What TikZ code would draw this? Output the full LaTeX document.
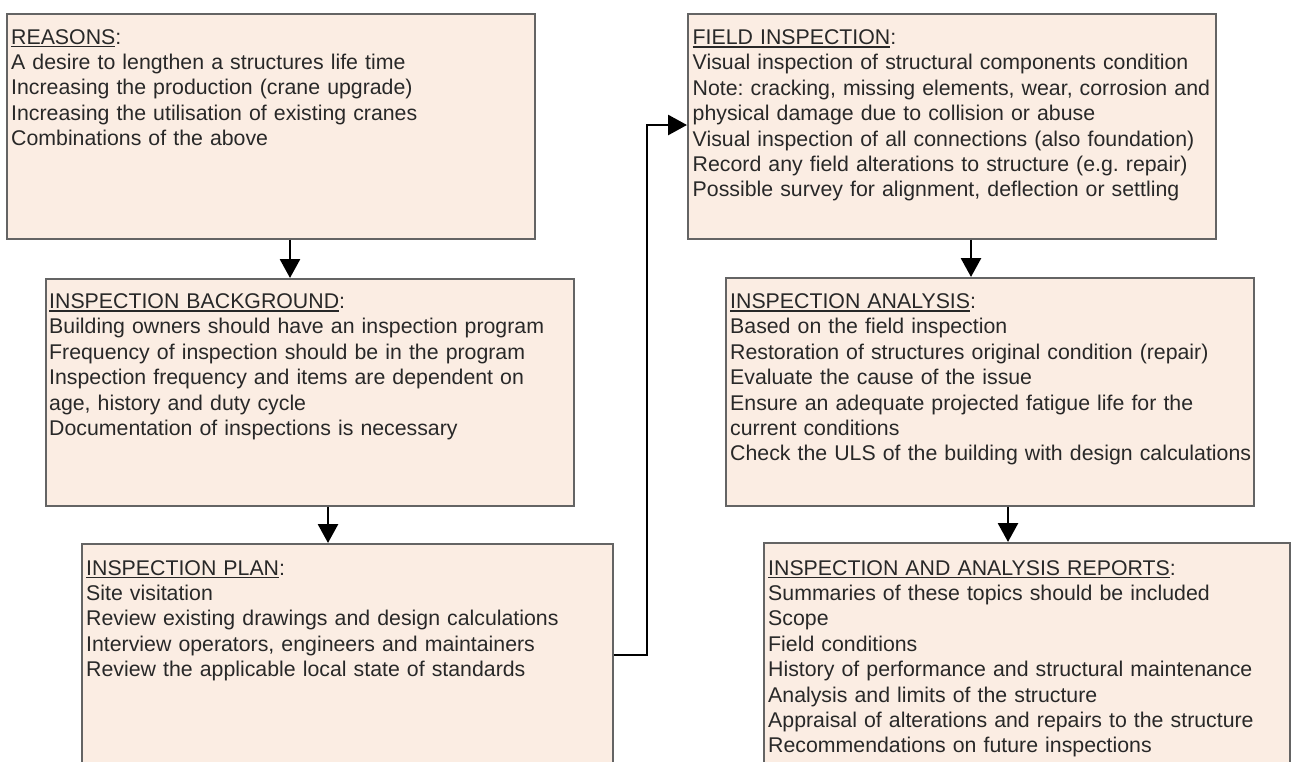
\documentclass[tikz,border=0pt]{standalone}
\usepackage{fontspec}
\setmainfont{Liberation Sans}
\usetikzlibrary{arrows.meta,calc}
\definecolor{boxfill}{RGB}{251,237,227}
\definecolor{boxline}{RGB}{100,100,100}
\definecolor{ink}{RGB}{40,40,40}
\frenchspacing
% underlined stage heading (the colon stays outside the rule)
\newcommand\stagehead[1]{\setbox0=\hbox{#1}\rlap{\rule[-3.2pt]{\wd0}{1.4pt}}\box0}
\tikzset{
  stagebox/.style={draw=boxline, fill=boxfill, line width=1.7pt, minimum width=528pt,
    inner sep=0pt, anchor=north west},
  stagetext/.style={anchor=base west, inner sep=0pt, text width=522pt, align=left, text=ink,
    font=\fontsize{21.3pt}{25.4pt}\selectfont},
  flow/.style={line width=2.8pt, line join=miter, -{Triangle[length=19pt,width=20pt]}},
}
\begin{document}
\begin{tikzpicture}[x=1pt,y=-1pt]
\useasboundingbox (0,0) rectangle (1291,761);
\clip (0,0) rectangle (1291,761);

% left column
\node[stagebox, minimum height=225pt] (reasons) at (6,13) {};
\node[stagebox, minimum height=227pt] (background) at (45,278) {};
\node[stagebox, minimum width=531pt, minimum height=250pt] (plan) at (81,543) {};
% right column
\node[stagebox, minimum height=225pt] (field) at (687,13) {};
\node[stagebox, minimum height=228pt] (analysis) at (725,277) {};
\node[stagebox, minimum width=526pt, minimum height=250pt] (reports) at (763,542) {};

\node[stagetext] (reasonsT) at ($(reasons.north west)+(5,31)$) {%
\stagehead{REASONS}:\\
A desire to lengthen a structures life time\\
Increasing the production (crane upgrade)\\
Increasing the utilisation of existing cranes\\
Combinations of the above};

\node[stagetext] (backgroundT) at ($(background.north west)+(4,30.5)$) {%
\stagehead{INSPECTION BACKGROUND}:\\
Building owners should have an inspection program\\
Frequency of inspection should be in the program\\
Inspection frequency and items are dependent on\\
age, history and duty cycle\\
Documentation of inspections is necessary};

\node[stagetext] (planT) at ($(plan.north west)+(5,32)$) {%
\stagehead{INSPECTION PLAN}:\\
Site visitation\\
Review existing drawings and design calculations\\
Interview operators, engineers and maintainers\\
Review the applicable local state of standards};

\node[stagetext] (fieldT) at ($(field.north west)+(5.5,31.5)$) {%
\stagehead{FIELD INSPECTION}:\\
Visual inspection of structural components condition\\
Note: cracking, missing elements, wear, corrosion and\\
physical damage due to collision or abuse\\
Visual inspection of all connections (also foundation)\\
Record any field alterations to structure (e.g. repair)\\
Possible survey for alignment, deflection or settling};

\node[stagetext] (analysisT) at ($(analysis.north west)+(5,31.5)$) {%
\stagehead{INSPECTION ANALYSIS}:\\
Based on the field inspection\\
Restoration of structures original condition (repair)\\
Evaluate the cause of the issue\\
Ensure an adequate projected fatigue life for the\\
current conditions\\
Check the ULS of the building with design calculations};

\node[stagetext] (reportsT) at ($(reports.north west)+(5,33)$) {%
\stagehead{INSPECTION AND ANALYSIS REPORTS}:\\
Summaries of these topics should be included\\
Scope\\
Field conditions\\
History of performance and structural maintenance\\
Analysis and limits of the structure\\
Appraisal of alterations and repairs to the structure\\
Recommendations on future inspections};

% connectors
\coordinate (c1) at (290,0);
\coordinate (c2) at (328,0);
\coordinate (c4) at (971,0);
\coordinate (c5) at (1008,0);
\coordinate (bend) at (647,125);
\coordinate (planout) at ($(plan.north east)+(0,112)$);

\draw[flow] (reasons.south -| c1) -- (background.north -| c1);
\draw[flow] (background.south -| c2) -- (plan.north -| c2);
\draw[flow] (planout) -| (bend) -- (field.west |- bend);
\draw[flow] (field.south -| c4) -- (analysis.north -| c4);
\draw[flow] (analysis.south -| c5) -- (reports.north -| c5);
\end{tikzpicture}
\end{document}
